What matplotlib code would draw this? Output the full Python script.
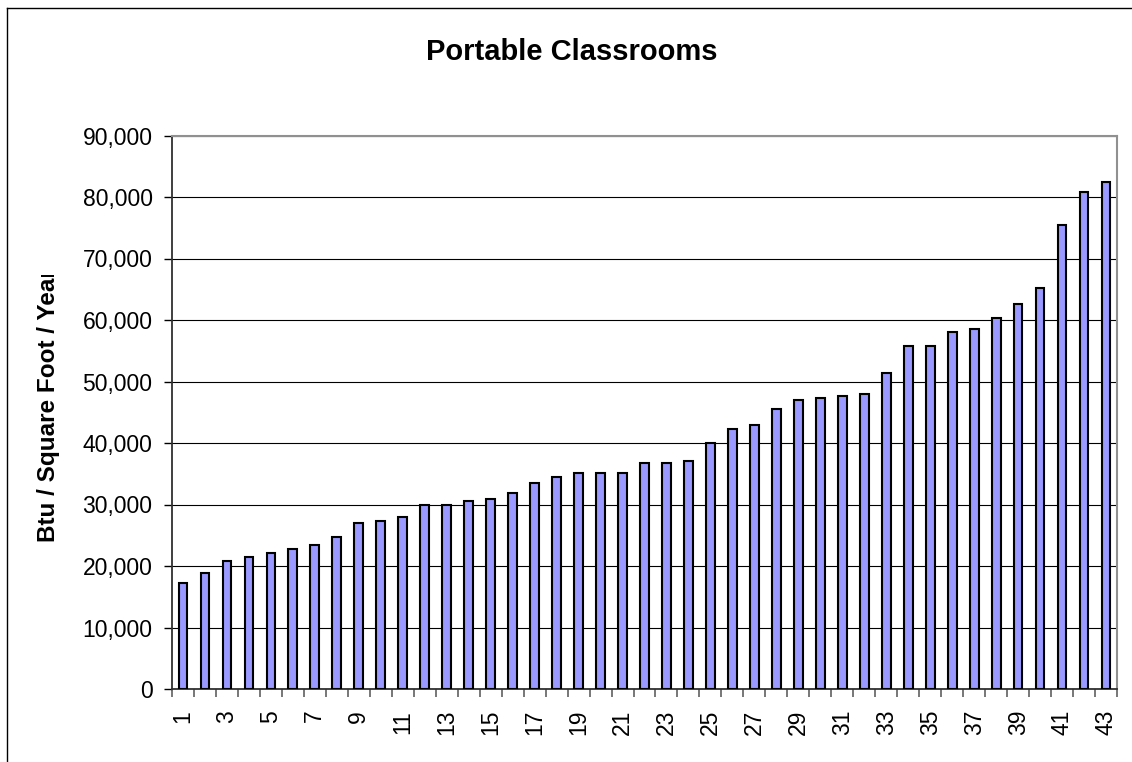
import matplotlib
matplotlib.use("Agg")
import matplotlib.pyplot as plt
from matplotlib.lines import Line2D
from matplotlib.ticker import FuncFormatter, FixedLocator
from matplotlib.transforms import Bbox

plt.rcParams['font.family'] = ['Liberation Sans', 'DejaVu Sans']

categories = list(range(1, 44))
values = [17200, 18900, 20800, 21450, 22100, 22750, 23450, 24750, 26950, 27300,
          28000, 29950, 29950, 30550, 30900, 31800, 33450, 34400, 35050, 35050,
          35050, 36700, 36700, 37000, 39950, 42200, 42850, 45500, 47050, 47330,
          47630, 47990, 51450, 55750, 55750, 58000, 58600, 60250, 62600, 65150,
          75500, 80800, 82400]
title = "Portable Classrooms"
ylabel = "Btu / Square Foot / Year"
yticks = [0, 10000, 20000, 30000, 40000, 50000, 60000, 70000, 80000, 90000]

W, H = 1132, 762
fig = plt.figure(figsize=(W / 100, H / 100), dpi=100)
ax = fig.add_axes([172 / W, 1 - 689 / H, (1117 - 172) / W, (689 - 135.5) / H])

ax.bar(categories, values, width=0.4, color='#9999FF', edgecolor='black',
       linewidth=1.5, zorder=3)

ax.set_xlim(0.5, 43.5)
ax.set_ylim(0, 90000)
ax.set_yticks(yticks)
ax.yaxis.set_major_formatter(FuncFormatter(lambda v, p: f"{int(v):,}"))
ax.grid(axis='y', color='black', linewidth=0.8, zorder=1)

# x: labels at odd categories, tick marks at category boundaries
odd = [c for c in categories if c % 2 == 1]
ax.xaxis.set_major_locator(FixedLocator(odd))
ax.set_xticklabels([str(c) for c in odd], rotation=90)
ax.xaxis.set_minor_locator(FixedLocator([c + 0.5 for c in [0] + categories]))
ax.tick_params(axis='x', which='major', length=0, pad=15, labelsize=16.5)
ax.tick_params(axis='x', which='minor', length=5.5, width=1.2, color='#606060')
ax.tick_params(axis='y', which='major', length=6, width=1.0, pad=8, labelsize=16.5,
               color='black')

for s in ['top', 'right']:
    ax.spines[s].set_color('#909090')
    ax.spines[s].set_linewidth(1.5)
for s in ['left', 'bottom']:
    ax.spines[s].set_color('#303030')
    ax.spines[s].set_linewidth(1.3)

fig.text(572 / W, 1 - 52 / H, title, ha='center', va='center',
         fontsize=21, fontweight='bold')

yl = fig.text(48 / W, 1 - 542 / H, ylabel, ha='left', va='center',
              rotation=90, rotation_mode='anchor', fontsize=17.5, fontweight='bold')
yl.set_clip_on(True)
yl.set_clip_box(Bbox.from_extents(0, 0, W, H - 275))

# outer chart border (left and top edges visible)
x0 = 6.5 / W
y0 = 1 - 7.5 / H
fig.add_artist(Line2D([x0, x0], [-0.1, y0], transform=fig.transFigure,
                      color='black', linewidth=1.0))
fig.add_artist(Line2D([x0, 1.1], [y0, y0], transform=fig.transFigure,
                      color='black', linewidth=1.0))

fig.savefig("out.png", dpi=100, facecolor='white')
